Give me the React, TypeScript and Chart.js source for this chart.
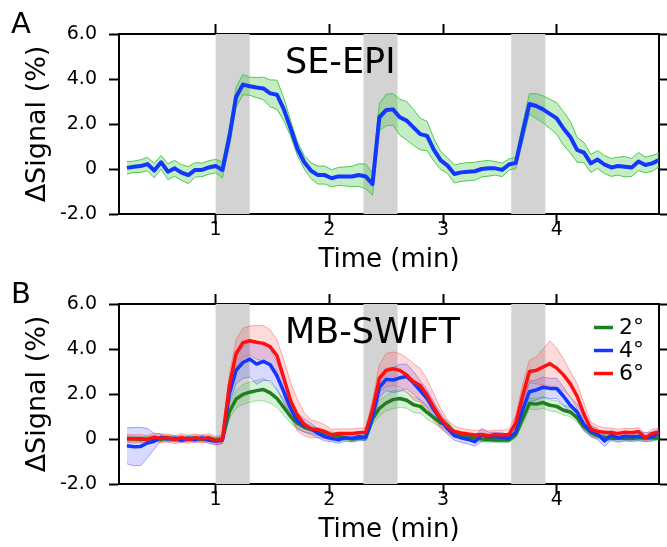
import React, { useEffect, useRef } from 'react';
import { Chart, registerables } from 'chart.js';

Chart.register(...registerables);

const FONT = '"DejaVu Sans", Verdana, sans-serif';

// sampling grid of the time courses (min)
const TIME = Array.from({ length: 79 }, (_, k) => Math.round((0.22 + 0.06 * k) * 100) / 100);
const X_MIN = 0.15;
const X_MAX = 4.9;
const X_TICKS = [1, 2, 3, 4];
const Y_MIN = -2;
const Y_MAX = 6;
const Y_TICKS = [-2, 0, 2, 4, 6];
const STIM_ON = [1.0, 2.3, 3.6];
const STIM_OFF = [1.3, 2.6, 3.9];

const PANEL_A_NAME = 'SE-EPI';
const PANEL_B_NAME = 'MB-SWIFT';
const B_LABELS = ['2°', '4°', '6°'];

// Panel A: SE-EPI mean and error band half-width (%)
const SE_EPI_MEAN = [
  0.05, 0.10, 0.13, 0.22, -0.07, 0.30, -0.12, 0.03, -0.16, -0.27, -0.04, -0.04, 0.07, 0.13, -0.04,
  1.40, 3.20, 3.75, 3.68, 3.62, 3.58, 3.36, 3.30, 2.65, 1.80,
  0.90, 0.30, -0.08, -0.27, -0.27, -0.41, -0.33, -0.33, -0.33, -0.27,
  -0.33, -0.67, 2.30, 2.62, 2.65, 2.30, 2.15, 1.85, 1.55, 1.47,
  0.85, 0.38, 0.15, -0.22, -0.15, -0.12, -0.10, 0.00, 0.03, 0.03,
  -0.04, 0.20, 0.27, 1.60, 2.89, 2.80, 2.65, 2.45, 2.25, 1.80,
  1.42, 0.85, 0.73, 0.25, 0.42, 0.20, 0.07, 0.13, 0.10, 0.07,
  0.33, 0.18, 0.25, 0.40,
];
const SE_EPI_ERR = [
  0.28, 0.25, 0.28, 0.30, 0.32, 0.30, 0.35, 0.35, 0.35, 0.38, 0.32, 0.30, 0.30, 0.30, 0.35,
  0.40, 0.45, 0.45, 0.40, 0.45, 0.50, 0.60, 0.65, 0.50, 0.35,
  0.30, 0.30, 0.35, 0.40, 0.40, 0.38, 0.40, 0.42, 0.45, 0.50,
  0.55, 0.50, 0.60, 0.70, 0.70, 0.80, 0.85, 0.80, 0.70, 0.65,
  0.50, 0.40, 0.35, 0.40, 0.40, 0.40, 0.40, 0.35, 0.35, 0.30,
  0.30, 0.25, 0.25, 0.40, 0.45, 0.55, 0.60, 0.65, 0.70, 0.75,
  0.70, 0.55, 0.45, 0.40, 0.40, 0.40, 0.40, 0.40, 0.45, 0.40,
  0.40, 0.35, 0.35, 0.30,
];

// Panel B: MB-SWIFT, flip angles 2°, 4°, 6°
const MB_2_MEAN = [
  0.00, 0.02, -0.02, 0.00, 0.03, -0.02, 0.05, 0.00, 0.03, 0.00, 0.05, -0.02, 0.03, -0.05, 0.00,
  1.20, 1.78, 1.98, 2.08, 2.15, 2.20, 2.05, 1.80, 1.40, 1.00,
  0.70, 0.52, 0.42, 0.33, 0.25, 0.20, 0.12, 0.05, 0.00, 0.03,
  0.05, 0.90, 1.36, 1.60, 1.75, 1.80, 1.72, 1.52, 1.45, 1.18,
  0.95, 0.72, 0.62, 0.25, 0.15, 0.10, 0.05, 0.00, -0.02, -0.04,
  -0.04, -0.04, 0.20, 0.90, 1.58, 1.55, 1.62, 1.50, 1.45, 1.28,
  1.20, 0.95, 0.55, 0.28, 0.14, 0.08, 0.03, 0.03, 0.03, 0.02,
  0.05, 0.03, 0.05, 0.03,
];
const MB_2_ERR = [
  0.12, 0.12, 0.12, 0.12, 0.12, 0.12, 0.12, 0.12, 0.12, 0.12, 0.12, 0.12, 0.12, 0.12, 0.12,
  0.30, 0.40, 0.45, 0.45, 0.45, 0.50, 0.45, 0.40, 0.35, 0.30,
  0.25, 0.20, 0.18, 0.15, 0.15, 0.12, 0.12, 0.12, 0.12, 0.12,
  0.12, 0.25, 0.35, 0.35, 0.40, 0.40, 0.35, 0.35, 0.30, 0.30,
  0.25, 0.20, 0.18, 0.15, 0.12, 0.12, 0.12, 0.12, 0.12, 0.12,
  0.12, 0.12, 0.15, 0.25, 0.25, 0.25, 0.25, 0.25, 0.25, 0.22,
  0.20, 0.20, 0.18, 0.15, 0.12, 0.12, 0.12, 0.12, 0.12, 0.12,
  0.12, 0.12, 0.12, 0.12,
];
const MB_4_MEAN = [
  -0.30, -0.34, -0.33, -0.18, -0.10, 0.08, 0.00, 0.02, -0.06, 0.03, -0.03, 0.05, -0.05, -0.10, -0.05,
  2.00, 3.05, 3.40, 3.55, 3.33, 3.45, 3.30, 2.80, 2.10, 1.35,
  0.80, 0.60, 0.45, 0.25, 0.10, 0.03, -0.04, 0.05, 0.02, 0.10,
  0.08, 1.00, 2.30, 2.65, 2.62, 2.72, 2.78, 2.50, 2.15, 1.80,
  1.30, 0.85, 0.45, 0.15, 0.05, -0.02, -0.12, 0.18, 0.10, 0.10,
  0.08, 0.03, 0.30, 1.30, 2.10, 2.18, 2.30, 2.25, 2.25, 1.90,
  1.50, 1.20, 0.65, 0.35, 0.22, -0.08, 0.18, 0.05, 0.12, 0.10,
  0.12, 0.08, 0.10, 0.25,
];
const MB_4_ERR = [
  0.80, 0.85, 0.85, 0.65, 0.35, 0.15, 0.12, 0.12, 0.12, 0.12, 0.12, 0.12, 0.15, 0.15, 0.15,
  0.40, 0.60, 0.70, 0.80, 0.90, 0.85, 0.70, 0.60, 0.50, 0.40,
  0.35, 0.30, 0.25, 0.20, 0.18, 0.15, 0.15, 0.15, 0.15, 0.15,
  0.15, 0.30, 0.45, 0.50, 0.55, 0.60, 0.55, 0.50, 0.45, 0.40,
  0.35, 0.30, 0.25, 0.20, 0.20, 0.20, 0.20, 0.30, 0.20, 0.20,
  0.20, 0.15, 0.20, 0.35, 0.45, 0.45, 0.45, 0.45, 0.45, 0.40,
  0.35, 0.35, 0.30, 0.25, 0.25, 0.25, 0.22, 0.20, 0.20, 0.20,
  0.20, 0.20, 0.20, 0.20,
];
const MB_6_MEAN = [
  0.03, 0.00, 0.02, -0.03, 0.08, 0.02, 0.05, -0.03, 0.06, -0.02, 0.05, 0.00, 0.05, -0.08, 0.00,
  2.35, 3.80, 4.28, 4.37, 4.30, 4.25, 4.10, 3.70, 2.70, 1.70,
  1.05, 0.65, 0.45, 0.42, 0.33, 0.18, 0.25, 0.25, 0.25, 0.28,
  0.30, 1.30, 2.70, 3.05, 3.12, 3.05, 2.85, 2.55, 2.38, 1.95,
  1.40, 0.90, 0.55, 0.33, 0.27, 0.22, 0.18, 0.20, 0.15, 0.20,
  0.18, 0.20, 0.70, 1.90, 3.00, 3.05, 3.20, 3.35, 3.15, 2.85,
  2.45, 1.90, 1.10, 0.45, 0.33, 0.30, 0.28, 0.25, 0.30, 0.28,
  0.33, 0.05, 0.25, 0.30,
];
const MB_6_ERR = [
  0.18, 0.18, 0.18, 0.18, 0.18, 0.18, 0.18, 0.18, 0.18, 0.18, 0.18, 0.18, 0.18, 0.20, 0.20,
  0.50, 0.60, 0.65, 0.65, 0.75, 0.80, 0.75, 0.70, 0.80, 0.80,
  0.70, 0.50, 0.40, 0.35, 0.30, 0.25, 0.20, 0.20, 0.20, 0.20,
  0.20, 0.40, 0.60, 0.75, 0.75, 0.75, 0.75, 0.80, 0.75, 0.70,
  0.60, 0.45, 0.30, 0.25, 0.20, 0.20, 0.20, 0.20, 0.20, 0.20,
  0.20, 0.25, 0.35, 0.50, 0.50, 0.60, 0.80, 1.00, 0.90, 0.70,
  0.55, 0.55, 0.50, 0.30, 0.25, 0.20, 0.20, 0.18, 0.18, 0.18,
  0.18, 0.18, 0.18, 0.18,
];

const BLUE = '#1238ff';
const GREEN = '#1f7f1f';
const RED = '#ff1010';

function toPoints(vals: number[]) {
  return TIME.map((t, i) => ({ x: t, y: vals[i] }));
}

function lineDs(label: string, mean: number[], color: string, width: number, order: number) {
  return {
    label,
    data: toPoints(mean),
    borderColor: color,
    backgroundColor: color,
    borderWidth: width,
    pointRadius: 0,
    tension: 0,
    fill: false,
    order,
    borderJoinStyle: 'round',
  };
}

function bandDs(mean: number[], err: number[], fillColor: string, edgeColor: string, order: number) {
  return [
    {
      label: '',
      data: toPoints(mean.map((m, i) => m + err[i])),
      borderColor: edgeColor,
      backgroundColor: fillColor,
      borderWidth: 1,
      pointRadius: 0,
      tension: 0,
      fill: '+1',
      order,
    },
    {
      label: '',
      data: toPoints(mean.map((m, i) => m - err[i])),
      borderColor: edgeColor,
      backgroundColor: fillColor,
      borderWidth: 1,
      pointRadius: 0,
      tension: 0,
      fill: false,
      order,
    },
  ];
}

const stimPlugin = {
  id: 'stimShade',
  beforeDatasetsDraw(chart: any) {
    const { ctx, chartArea, scales } = chart;
    const x = scales.x;
    ctx.save();
    ctx.fillStyle = '#d3d3d3';
    STIM_ON.forEach((s, i) => {
      const x0 = x.getPixelForValue(s);
      const x1 = x.getPixelForValue(STIM_OFF[i]);
      ctx.fillRect(x0, chartArea.top, x1 - x0, chartArea.bottom - chartArea.top);
    });
    ctx.restore();
  },
};

function makeTextPlugin(letter: string, name: string, legend: { label: string; color: string }[]) {
  return {
    id: 'panelText',
    afterDraw(chart: any) {
      const { ctx, chartArea } = chart;
      ctx.save();
      ctx.fillStyle = '#000';
      ctx.textAlign = 'left';
      ctx.textBaseline = 'alphabetic';
      ctx.font = `29px ${FONT}`;
      ctx.fillText(letter, 11, chartArea.top - 1.5);
      ctx.font = `35px ${FONT}`;
      ctx.fillText(name, chartArea.left + 166, chartArea.top + 39);
      legend.forEach((it, i) => {
        const y = chartArea.top + 23.5 + i * 23;
        ctx.strokeStyle = it.color;
        ctx.lineWidth = 3.5;
        ctx.beginPath();
        ctx.moveTo(chartArea.right - 65, y);
        ctx.lineTo(chartArea.right - 46, y);
        ctx.stroke();
        ctx.font = `22px ${FONT}`;
        ctx.textBaseline = 'middle';
        ctx.fillStyle = '#000';
        ctx.fillText(it.label, chartArea.right - 40, y + 1);
      });
      ctx.restore();
    },
  };
}

function makeOptions(canvasH: number) {
  const grid = {
    display: true,
    drawOnChartArea: false,
    drawTicks: true,
    tickLength: 10,
    tickWidth: 2,
    tickColor: '#000',
  };
  const border = { display: true, color: '#000', width: 2 };
  const setX = (s: any) => {
    s.ticks = X_TICKS.map((v) => ({ value: v }));
  };
  const setY = (s: any) => {
    s.ticks = Y_TICKS.map((v) => ({ value: v }));
  };
  const plotTop = 34;
  const plotBottom = 214;
  return {
    responsive: false,
    animation: false,
    devicePixelRatio: 1,
    layout: { padding: 0 },
    plugins: { legend: { display: false }, tooltip: { enabled: false } },
    scales: {
      x: {
        type: 'linear',
        position: 'bottom',
        min: X_MIN,
        max: X_MAX,
        grid,
        border,
        afterBuildTicks: setX,
        ticks: {
          color: '#000',
          font: { size: 19, family: FONT },
          padding: -5,
          maxRotation: 0,
          autoSkip: false,
          callback: (v: any) => String(v),
        },
        title: {
          display: true,
          text: 'Time (min)',
          color: '#000',
          font: { size: 26, family: FONT },
          padding: { top: 0, bottom: 1 },
        },
        afterFit: (s: any) => {
          s.height = canvasH - plotBottom;
        },
      },
      x2: {
        type: 'linear',
        position: 'top',
        min: X_MIN,
        max: X_MAX,
        grid,
        border,
        afterBuildTicks: setX,
        ticks: { display: false },
        afterFit: (s: any) => {
          s.height = plotTop;
        },
      },
      y: {
        type: 'linear',
        position: 'left',
        min: Y_MIN,
        max: Y_MAX,
        grid,
        border,
        afterBuildTicks: setY,
        ticks: {
          color: '#000',
          font: { size: 19, family: FONT },
          padding: 12,
          autoSkip: false,
          callback: (v: any) => (Number(v) === 0 ? '0' : Number(v).toFixed(1)),
        },
        title: {
          display: true,
          text: 'ΔSignal (%)',
          color: '#000',
          font: { size: 27, family: FONT },
          padding: { top: 22, bottom: 0 },
        },
        afterFit: (s: any) => {
          s.width = 119;
        },
      },
      y2: {
        type: 'linear',
        position: 'right',
        min: Y_MIN,
        max: Y_MAX,
        grid,
        border,
        afterBuildTicks: setY,
        ticks: { display: false },
        afterFit: (s: any) => {
          s.width = 8;
        },
      },
    },
  };
}

function Panel(props: {
  top: number;
  height: number;
  letter: string;
  name: string;
  datasets: any[];
  legend: { label: string; color: string }[];
}) {
  const ref = useRef<HTMLCanvasElement>(null);
  useEffect(() => {
    if (!ref.current) return;
    const chart = new Chart(ref.current, {
      type: 'line',
      data: { datasets: props.datasets },
      options: makeOptions(props.height) as any,
      plugins: [stimPlugin, makeTextPlugin(props.letter, props.name, props.legend)],
    } as any);
    return () => chart.destroy();
  }, []);
  return (
    <div style={{ position: 'absolute', left: 0, top: props.top, width: 667, height: props.height }}>
      <canvas
        ref={ref}
        width={667}
        height={props.height}
        style={{ display: 'block', width: 667, height: props.height }}
      />
    </div>
  );
}

export default function App() {
  const dsA = [
    lineDs(PANEL_A_NAME, SE_EPI_MEAN, BLUE, 4, 0),
    ...bandDs(SE_EPI_MEAN, SE_EPI_ERR, 'rgba(70,200,70,0.32)', 'rgb(80,200,80)', 1),
  ];
  const dsB = [
    lineDs(B_LABELS[2], MB_6_MEAN, RED, 3.5, 0),
    lineDs(B_LABELS[1], MB_4_MEAN, BLUE, 3.5, 1),
    lineDs(B_LABELS[0], MB_2_MEAN, GREEN, 3.5, 2),
    ...bandDs(MB_6_MEAN, MB_6_ERR, 'rgba(255,70,70,0.2)', 'rgba(255,70,70,0.45)', 3),
    ...bandDs(MB_4_MEAN, MB_4_ERR, 'rgba(60,70,255,0.2)', 'rgba(60,70,255,0.45)', 4),
    ...bandDs(MB_2_MEAN, MB_2_ERR, 'rgba(60,190,60,0.2)', 'rgba(60,190,60,0.45)', 5),
  ];
  const legendB = [
    { label: B_LABELS[0], color: GREEN },
    { label: B_LABELS[1], color: BLUE },
    { label: B_LABELS[2], color: RED },
  ];
  return (
    <div style={{ position: 'absolute', left: 0, top: 0, width: 667, height: 547, background: '#fff' }}>
      <Panel top={0} height={277} letter="A" name={PANEL_A_NAME} datasets={dsA} legend={[]} />
      <Panel top={270} height={277} letter="B" name={PANEL_B_NAME} datasets={dsB} legend={legendB} />
    </div>
  );
}
